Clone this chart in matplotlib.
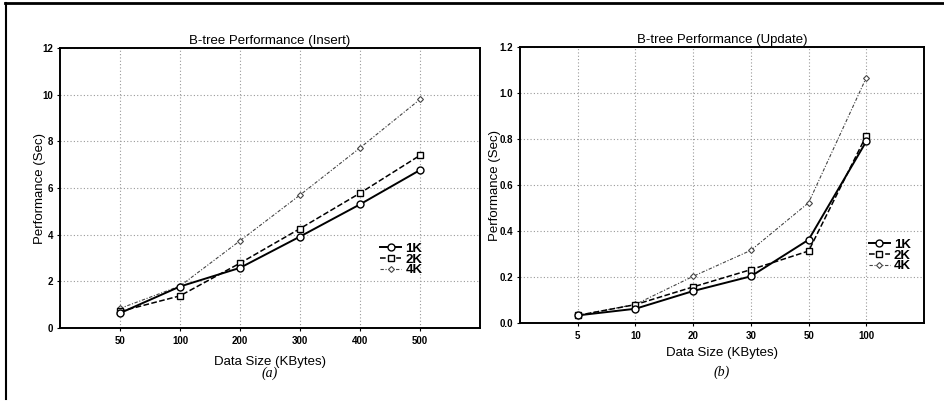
import matplotlib
matplotlib.use("Agg")
import matplotlib.pyplot as plt
from matplotlib.lines import Line2D

plt.rcParams['font.family'] = ['Liberation Sans', 'DejaVu Sans']

# Data
insert_sizes = ["50", "100", "200", "300", "400", "500"]
insert_1k = [0.64, 1.78, 2.58, 3.92, 5.30, 6.77]
insert_2k = [0.71, 1.38, 2.78, 4.26, 5.78, 7.40]
insert_4k = [0.84, 1.80, 3.74, 5.70, 7.72, 9.80]

update_sizes = ["5", "10", "20", "30", "50", "100"]
update_1k = [0.033, 0.062, 0.139, 0.203, 0.362, 0.790]
update_2k = [0.033, 0.080, 0.157, 0.232, 0.313, 0.815]
update_4k = [0.033, 0.081, 0.203, 0.316, 0.523, 1.067]

series_labels = ["1K", "2K", "4K"]

fig = plt.figure(figsize=(9.45, 4.07), dpi=100)

def style_axes(ax, cats, s1, s2, s4, ylim, yticks, yfmt, title, sub,
               legend_anchor, ylab_x, xlab_y, sub_y):
    x = list(range(1, len(cats) + 1))
    ax.plot(x, s1, '-', color='black', lw=1.4, marker='o', ms=5,
            mfc='white', mec='black', mew=1.0, label=series_labels[0], zorder=4)
    ax.plot(x, s2, '--', color='black', lw=1.1, marker='s', ms=5,
            mfc='white', mec='black', mew=1.0, label=series_labels[1], zorder=3)
    ax.plot(x, s4, linestyle=(0, (3, 1.5, 1, 1.5)), color='#444444', lw=0.8, marker='D', ms=3,
            mfc='white', mec='#444444', mew=0.8, label=series_labels[2], zorder=2)
    ax.set_xlim(0, len(cats) + 1)
    ax.set_ylim(*ylim)
    ax.set_xticks(x)
    ax.set_xticklabels(cats)
    ax.set_yticks(yticks)
    ax.set_yticklabels([yfmt.format(v) for v in yticks])
    ax.grid(True, linestyle=(0, (1, 2)), color='#999999', lw=0.8)
    ax.set_axisbelow(True)
    for sp in ax.spines.values():
        sp.set_linewidth(1.4)
        sp.set_color('black')
    ax.tick_params(axis='x', length=2, width=0.8, labelsize=7, pad=4)
    ax.tick_params(axis='y', length=2, width=0.8, labelsize=7, pad=3)
    for lab in ax.get_xticklabels() + ax.get_yticklabels():
        lab.set_fontweight('bold')
    ax.set_title(title, fontsize=9.5, pad=3)
    ax.set_xlabel("Data Size (KBytes)", fontsize=9.5)
    ax.set_ylabel("Performance (Sec)", fontsize=9.5)
    ax.yaxis.set_label_coords(ylab_x, 0.5)
    ax.xaxis.set_label_coords(0.5, xlab_y)
    ax.xaxis.label.set_va('center')
    ax.yaxis.label.set_va('center')
    ax.text(0.5, sub_y, sub, transform=ax.transAxes, ha='center', va='center',
            fontsize=10, style='italic', family=['Liberation Serif', 'DejaVu Serif'])
    leg = ax.legend(loc='center left', bbox_to_anchor=legend_anchor, frameon=False,
                    fontsize=9.5, handlelength=1.6, handletextpad=0.3,
                    labelspacing=-0.1, borderaxespad=0)
    for t in leg.get_texts():
        t.set_fontweight('bold')

ax1 = fig.add_axes([0.0635, 0.194, 0.4444, 0.688])
style_axes(ax1, insert_sizes, insert_1k, insert_2k, insert_4k,
           (0, 12), [0, 2, 4, 6, 8, 10, 12], "{:g}",
           "B-tree Performance (Insert)", "(a)", (0.75, 0.245),
           -0.048, -0.121, -0.162)

ax2 = fig.add_axes([0.5503, 0.2064, 0.4275, 0.678])
style_axes(ax2, update_sizes, update_1k, update_2k, update_4k,
           (0, 1.2), [0.0, 0.2, 0.4, 0.6, 0.8, 1.0, 1.2], "{:.1f}",
           "B-tree Performance (Update)", "(b)", (0.85, 0.245),
           -0.062, -0.109, -0.178)

# page frame lines (scan border)
fig.add_artist(Line2D([0.005, 1.0], [0.992, 0.992], transform=fig.transFigure,
                      color='black', lw=2))
fig.add_artist(Line2D([0.006, 0.006], [0.02, 0.992], transform=fig.transFigure,
                      color='black', lw=1.5))

fig.savefig("out.png", dpi=100)
